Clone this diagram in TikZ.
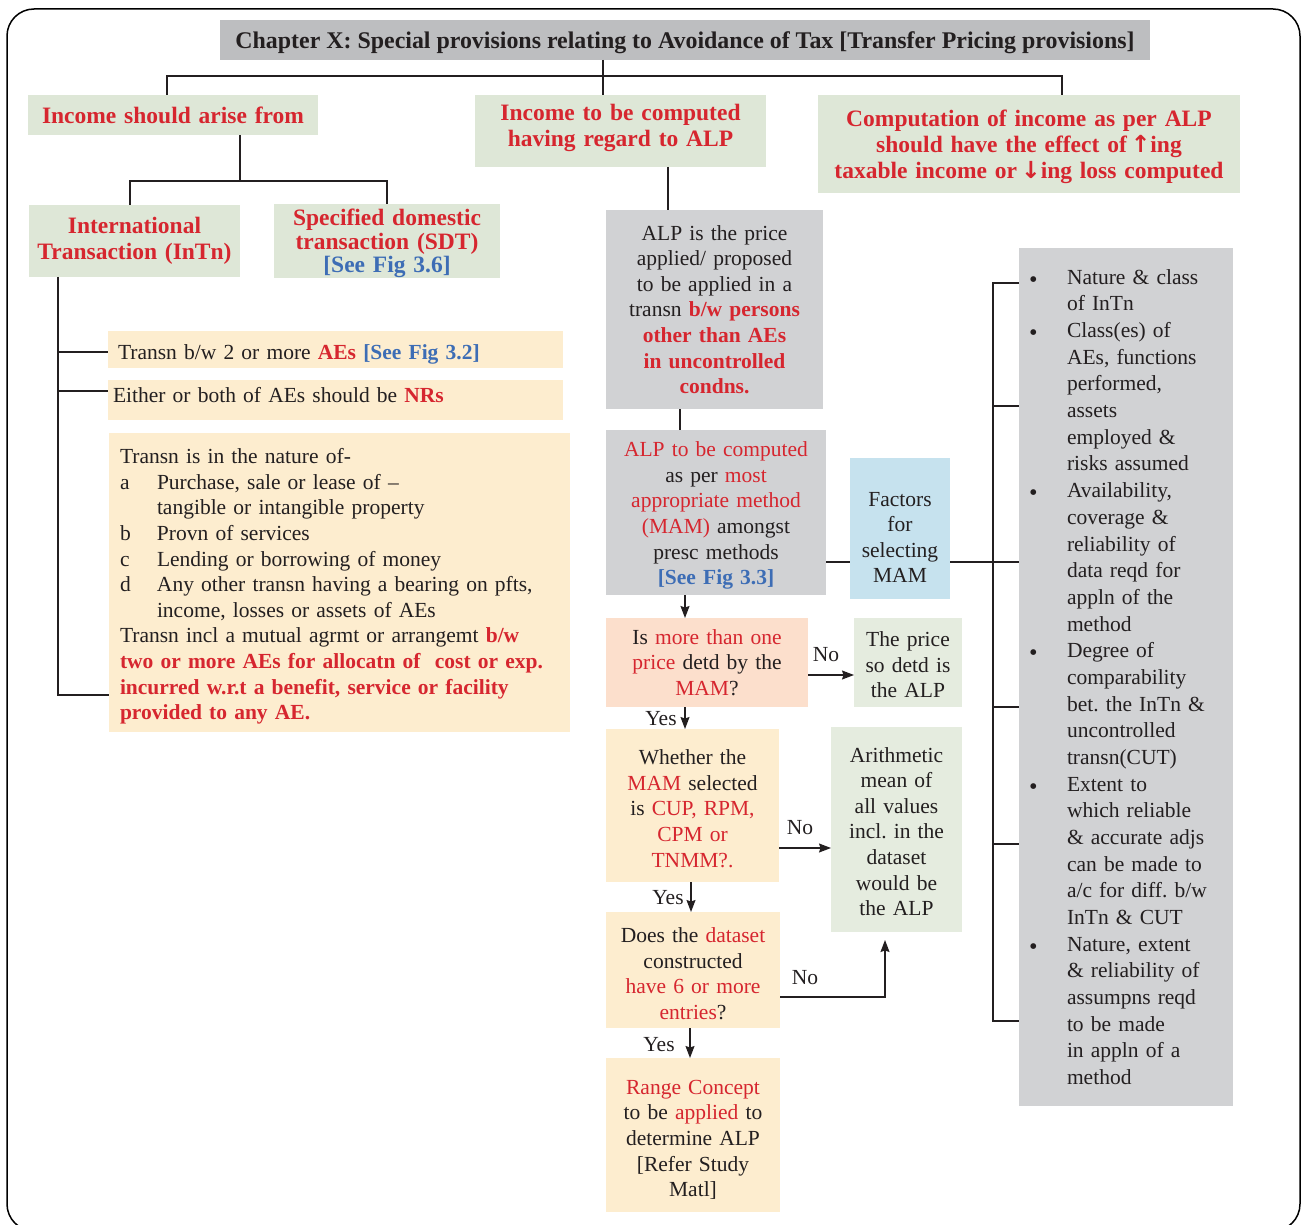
\documentclass[tikz,border=0pt]{standalone}
\usepackage{fontspec}
\setmainfont{Liberation Serif}
\newfontfamily\symfont{DejaVu Sans}
\usetikzlibrary{arrows.meta}
\definecolor{tgray}{HTML}{BDBEC0}
\definecolor{bgreen}{HTML}{DEE7D7}
\definecolor{byellow}{HTML}{FDEDCF}
\definecolor{bgray}{HTML}{D1D2D4}
\definecolor{bpeach}{HTML}{FCDFCC}
\definecolor{bblue}{HTML}{C6E2EE}
\definecolor{tred}{HTML}{D6262F}
\definecolor{tblue}{HTML}{3D6DB5}
\definecolor{tblack}{HTML}{231F20}
\newcommand{\bodyfont}{\fontsize{21.5}{25.6}\selectfont\frenchspacing}
\newcommand{\headfont}{\fontsize{23.5}{26}\selectfont\bfseries\frenchspacing}
\newcommand{\redt}[1]{\textcolor{tred}{#1}}
\newcommand{\redb}[1]{\textcolor{tred}{\bfseries #1}}
\newcommand{\bluet}[1]{\textcolor{tblue}{\bfseries #1}}
\newcommand{\rbul}{\makebox[48pt][l]{\hspace{11pt}\raisebox{3pt}{\symfont\fontsize{7.5}{7.5}\selectfont ●}}}
\newcommand{\rind}{\hspace*{48pt}}
\newcommand{\sdn}[1]{\rule{0pt}{#1}}
\newcommand{\sdp}[1]{\rule[-#1]{0pt}{#1}}
\begin{document}
\begin{tikzpicture}[x=1pt,y=-1pt,
  every node/.style={inner sep=0pt,outer sep=0pt,text=tblack},
  bx/.style={align=center,font=\bodyfont},
  hd/.style={align=center,font=\headfont,text=tred,fill=bgreen},
  ln/.style={line width=1.3pt,draw=tblack},
  arr/.style={ln,-{Stealth[length=12pt,width=9pt,inset=1.5pt]}},
  lbl/.style={font=\bodyfont}]
\useasboundingbox (0,0) rectangle (1302,1225);
\clip (0,0) rectangle (1302,1225);
\draw[line width=1.5pt,rounded corners=27pt] (7,9) rectangle (1300,1231);

% title and first level
\node[fill=tgray,minimum width=930pt,minimum height=40pt,font={\fontsize{23.9}{26}\selectfont\bfseries}] (T) at (685,40)
  {\sdn{22pt}Chapter X: Special provisions relating to Avoidance of Tax [Transfer Pricing provisions]};
\node[hd,minimum width=290pt,minimum height=40pt,text width=290pt] (A) at (173,115) {Income should arise from};
\node[hd,minimum width=291pt,minimum height=72pt,text width=291pt] (B) at (620.5,131) {Income to be computed\\having regard to ALP\sdp{11pt}};
\node[hd,minimum width=422pt,minimum height=98pt,text width=422pt] (C) at (1029,144)
  {\sdn{21.5pt}Computation of income as per ALP\\should have the effect of\,{\symfont\bfseries ↑}ing\\taxable income or\,{\symfont\bfseries ↓}ing loss computed};

% second level left
\node[hd,minimum width=211pt,minimum height=72pt,text width=211pt] (D) at (134.5,241) {International\\Transaction (InTn)};
\node[hd,minimum width=226pt,minimum height=72pt,text width=226pt,font={\fontsize{23.5}{23.5}\selectfont\bfseries}] (E) at (387,241)
  {\sdn{22pt}Specified domestic\\transaction (SDT)\\\textcolor{tblue}{[See Fig 3.6]}};

\node[bx,fill=byellow,minimum width=455pt,minimum height=37pt,text width=435pt,inner xsep=10pt,align=left] (F) at (335.5,349.5)
  {\sdn{24pt}Transn b/w 2 or more \redb{AEs} \bluet{[See Fig 3.2]}};
\node[bx,fill=byellow,minimum width=455pt,minimum height=40pt,text width=445pt,inner xsep=5pt,align=left,text depth=10pt] (G) at (335.5,400)
  {Either or both of AEs should be \redb{NRs}};
\node[bx,fill=byellow,minimum width=461pt,minimum height=299pt,text width=439pt,inner xsep=11pt,align=left] (H) at (339.5,582.5)
  {\sdn{23pt}Transn is in the nature of-\\
   \makebox[37pt][l]{a}Purchase, sale or lease of –\\
   \hspace*{37pt}tangible or intangible property\\
   \makebox[37pt][l]{b}Provn of services\\
   \makebox[37pt][l]{c}Lending or borrowing of money\\
   \makebox[37pt][l]{d}Any other transn having a bearing on pfts,\\
   \hspace*{37pt}income, losses or assets of AEs\\
   Transn incl a mutual agrmt or arrangemt \redb{b/w}\\
   \redb{two or more AEs for allocatn of\ \ cost or exp.}\\
   \redb{incurred w.r.t a benefit, service or facility}\\
   \redb{provided to any AE.}};

% middle column
\node[bx,fill=bgray,minimum width=217pt,minimum height=199pt,text width=217pt] (I) at (714.5,309.5)
  {ALP is the price\\applied/ proposed\\to be applied in a\\transn \redb{b/w persons}\\\redb{other than AEs}\\\redb{in uncontrolled}\\\redb{condns.}};
\node[bx,fill=bgray,minimum width=220pt,minimum height=165pt,text width=220pt] (J) at (716,512.5)
  {\sdn{21pt}\redt{ALP to be computed}\\as per \redt{most}\\\redt{appropriate method}\\\redt{(MAM)} amongst\\presc methods\\\bluet{[See Fig 3.3]}};
\node[bx,fill=bpeach,minimum width=202pt,minimum height=89pt,text width=202pt] (K) at (707,662.5)
  {Is \redt{more than one}\\\redt{price} detd by the\\\redt{MAM}?};
\node[bx,fill=bgreen!80!white,minimum width=108pt,minimum height=89pt,text width=108pt] (L) at (908,662.5)
  {\sdn{20pt}The price\\so detd is\\the ALP};
\node[bx,fill=byellow,minimum width=173pt,minimum height=153pt,text width=173pt] (M) at (692.5,805.5)
  {\sdn{21pt}Whether the\\\redt{MAM} selected\\is \redt{CUP, RPM,}\\\redt{CPM or}\\\redt{TNMM?.}};
\node[bx,fill=bgreen!80!white,minimum width=131pt,minimum height=205pt,text width=131pt] (N) at (896.5,829.5)
  {\sdn{19pt}Arithmetic\\mean of\\all values\\incl. in the\\dataset\\would be\\the ALP};
\node[bx,fill=byellow,minimum width=174pt,minimum height=116pt,text width=174pt] (O) at (693,970)
  {\sdn{22pt}Does the \redt{dataset}\\constructed\\\redt{have 6 or more}\\\redt{entries}?};
\node[bx,fill=byellow,minimum width=174pt,minimum height=154pt,text width=174pt] (P) at (693,1135)
  {\sdn{24pt}\redt{Range Concept}\\to be \redt{applied} to\\determine ALP\\{[}Refer Study\\Matl{]}};
\node[bx,fill=bblue,minimum width=100pt,minimum height=141pt,text width=100pt] (Q) at (900,528.5)
  {\sdn{32pt}Factors\\for\\selecting\\MAM};

% right factors box
\node[bx,fill=bgray,minimum width=214pt,minimum height=858pt,text width=214pt,align=left,font={\fontsize{21.5}{26.67}\selectfont\frenchspacing}] (R) at (1126,677)
  {\rbul Nature \& class\\
   \rind of InTn\\
   \rbul Class(es) of\\
   \rind AEs, functions\\
   \rind performed,\\
   \rind assets\\
   \rind employed \&\\
   \rind risks assumed\\
   \rbul Availability,\\
   \rind coverage \&\\
   \rind reliability of\\
   \rind data reqd for\\
   \rind appln of the\\
   \rind method\\
   \rbul Degree of\\
   \rind comparability\\
   \rind bet. the InTn \&\\
   \rind uncontrolled\\
   \rind transn(CUT)\\
   \rbul Extent to\\
   \rind which reliable\\
   \rind \& accurate adjs\\
   \rind can be made to\\
   \rind a/c for diff. b/w\\
   \rind InTn \& CUT\\
   \rbul Nature, extent\\
   \rind \& reliability of\\
   \rind assumpns reqd\\
   \rind to be made\\
   \rind in appln of a\\
   \rind method};

% labels
\node[lbl] (no1) at (826,655) {No};
\node[lbl] (yes1) at (661,719) {Yes};
\node[lbl] (no2) at (800,828) {No};
\node[lbl] (yes2) at (668,898) {Yes};
\node[lbl] (no3) at (805,978) {No};
\node[lbl] (yes3) at (659,1045) {Yes};

% tree connectors
\coordinate (t1) at (603,76);
\coordinate (tl) at (167,76);
\coordinate (tr) at (1062,76);
\draw[ln] (T.south -| t1) -- (B.north -| t1);
\draw[ln] (A.north -| tl) -- (tl) -- (tr) -- (C.north -| tr);
\coordinate (a1) at (240,181);
\coordinate (al) at (130,181);
\coordinate (ar) at (387,181);
\draw[ln] (A.south -| a1) -- (a1);
\draw[ln] (D.north -| al) -- (al) -- (ar) -- (E.north -| ar);
\coordinate (dv) at (58,695);
\draw[ln] (D.south -| dv) -- (dv) -- (H.west |- dv);
\draw[ln] (dv |- 0,352) -- (F.west |- 0,352);
\draw[ln] (dv |- 0,391) -- (G.west |- 0,391);

\coordinate (bi) at (668,190);
\draw[ln] (B.south -| bi) -- (I.north -| bi);
\coordinate (ij) at (680,420);
\draw[ln] (I.south -| ij) -- (J.north -| ij);

\coordinate (rv) at (993,562);
\coordinate (rtop) at (993,283);
\coordinate (rbot) at (993,1021);
\draw[ln] (J.east |- rv) -- (Q.west |- rv);
\draw[ln] (Q.east |- rv) -- (rv) -- (R.west |- rv);
\draw[ln] (R.west |- rtop) -- (rtop) -- (rbot) -- (R.west |- rbot);
\draw[ln] (rv |- 0,406) -- (R.west |- 0,406);
\draw[ln] (rv |- 0,707) -- (R.west |- 0,707);
\draw[ln] (rv |- 0,844) -- (R.west |- 0,844);

% flow arrows
\coordinate (c685) at (685,600);
\coordinate (c691) at (691,890);
\coordinate (c690) at (690,1040);
\coordinate (c885) at (885,960);
\draw[arr] (J.south -| c685) -- (K.north -| c685);
\draw[arr] (K.east |- 0,675) -- (L.west |- 0,675);
\draw[arr] (K.south -| c685) -- (M.north -| c685);
\draw[arr] (M.east |- 0,848) -- (N.west |- 0,848);
\draw[arr] (M.south -| c691) -- (O.north -| c691);
\draw[arr,shorten >=8pt] (O.east |- 0,997) -| (N.south -| c885);
\draw[arr] (O.south -| c690) -- (P.north -| c690);
\end{tikzpicture}
\end{document}
